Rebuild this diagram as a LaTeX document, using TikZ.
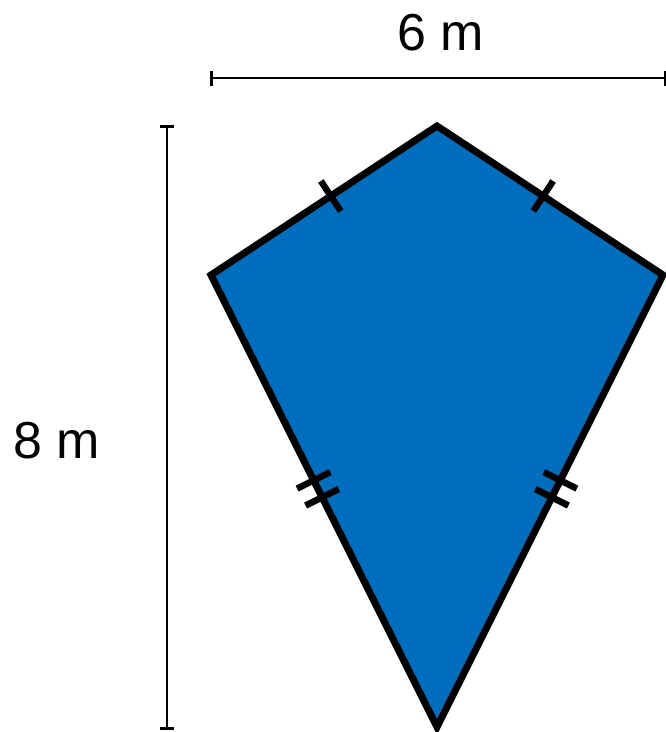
\documentclass[tikz,border=0pt]{standalone}
\usepackage{fontspec}
\setmainfont{Liberation Sans}
\usetikzlibrary{calc}
\definecolor{kiteblue}{RGB}{0,110,190}
\tikzset{
  kite/.style={draw=black, fill=kiteblue, line width=7pt, line join=miter},
  dimline/.style={draw=black, line width=2.5pt},
  dimtick/.style={draw=black, line width=3pt},
  eqtick/.style={draw=black, line width=6.5pt},
  lbl/.style={font=\fontsize{52}{62}\selectfont, inner sep=0pt}
}
\begin{document}
\begin{tikzpicture}[x=1pt,y=-1pt]
\useasboundingbox (0,0) rectangle (666,732);
\coordinate (T) at (437,126);
\coordinate (L) at (211,275);
\coordinate (R) at (663,275);
\coordinate (B) at (437,727);
\path[kite] (T) -- (R) -- (B) -- (L) -- cycle;
% single ticks on upper edges
\foreach \a/\b in {L/T, R/T}{
  \coordinate (M) at ($(\a)!0.53!(\b)$);
  \draw[eqtick] ($(M)!18pt!90:(\b)$) -- ($(M)!18pt!-90:(\b)$);
}
% double ticks on lower edges
\foreach \a/\b in {L/B, R/B}{
  \coordinate (M) at ($(\a)!0.473!(\b)$);
  \coordinate (M1) at ($(M)!-9.5pt!(\b)$);
  \coordinate (M2) at ($(M)!9.5pt!(\b)$);
  \draw[eqtick] ($(M1)!18.5pt!90:(\b)$) -- ($(M1)!18.5pt!-90:(\b)$);
  \draw[eqtick] ($(M2)!18.5pt!90:(\b)$) -- ($(M2)!18.5pt!-90:(\b)$);
}
% horizontal dimension
\coordinate (h1) at (211,78);
\coordinate (h2) at (665,78);
\draw[dimline] (h1) -- (h2);
\draw[dimtick] (211,71) -- (211,86);
\draw[dimtick] (665,71) -- (665,86);
\node[lbl] (w) at (441,33) {6 m};
% vertical dimension
\coordinate (v1) at (167,126);
\coordinate (v2) at (167,728);
\draw[dimline] (v1) -- (v2);
\draw[dimtick] (160,126) -- (174,126);
\draw[dimtick] (160,728) -- (174,728);
\node[lbl] (hgt) at (57,441) {8 m};
\end{tikzpicture}
\end{document}
